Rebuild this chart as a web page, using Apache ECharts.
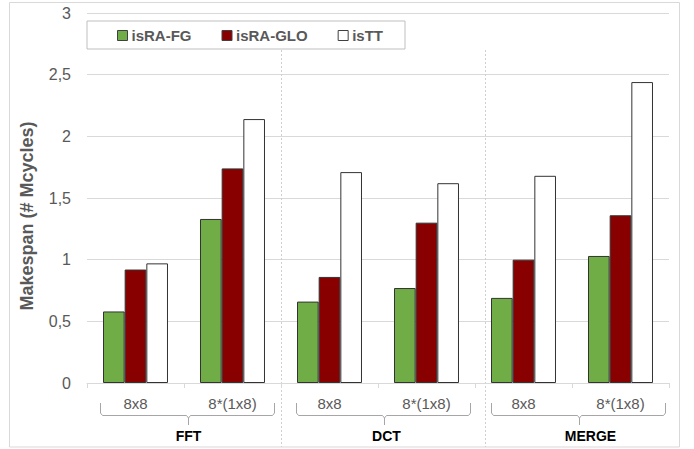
<!DOCTYPE html>
<html><head><meta charset="utf-8">
<script src="https://cdn.jsdelivr.net/npm/echarts@6/dist/echarts.min.js"></script>
<style>html,body{margin:0;padding:0;background:#fff}#c{width:694px;height:449px}</style>
</head><body><div id="c"></div>
<script>
// ---- data ----
const categories = ['8x8', '8*(1x8)', '8x8', '8*(1x8)', '8x8', '8*(1x8)'];
const groups = ['FFT', 'DCT', 'MERGE'];
const seriesNames = ['isRA-FG', 'isRA-GLO', 'isTT'];
const isRA_FG = [0.58, 1.33, 0.66, 0.77, 0.69, 1.03];
const isRA_GLO = [0.92, 1.74, 0.86, 1.30, 1.00, 1.36];
const isTT = [0.97, 2.14, 1.71, 1.62, 1.68, 2.44];
const yMin = 0, yMax = 3, yInterval = 0.5;
const yTitle = 'Makespan (# Mcycles)';

// ---- style ----
const colors = ['#70AD47', '#880000', '#FFFFFF'];
const FONT = '"Liberation Sans", Arial, sans-serif';
const gray = '#595959';
const sepShift = [0, 10];      // dotted separator offsets (Excel quirk)
const labelShift = [0, 2, 11]; // group label offsets

const chart = echarts.init(document.getElementById('c'), null, { renderer: 'svg' });
const seriesData = [isRA_FG, isRA_GLO, isTT];

chart.setOption({
  animation: false,
  backgroundColor: '#fff',
  textStyle: { fontFamily: FONT },
  grid: { left: 87, right: 25, top: 13, bottom: 66 },
  legend: {
    left: 87, top: 21,
    padding: [7, 22, 6, 30],
    itemGap: 30, itemWidth: 10, itemHeight: 10,
    icon: 'rect',
    borderColor: '#bfbfbf', borderWidth: 1,
    itemStyle: { borderColor: '#404040', borderWidth: 1 },
    textStyle: { fontSize: 15, fontWeight: 'bold', color: gray, fontFamily: FONT, padding: [0, 0, 0, -1] },
    data: seriesNames
  },
  xAxis: {
    type: 'category',
    data: categories,
    axisLine: { lineStyle: { color: '#d9d9d9', width: 1 } },
    axisTick: { show: true, length: 5, lineStyle: { color: '#d9d9d9' } },
    axisLabel: { interval: 0, fontSize: 15, color: gray, margin: 13, fontFamily: FONT },
    splitLine: { show: false }
  },
  yAxis: {
    type: 'value',
    min: yMin, max: yMax, interval: yInterval,
    axisLine: { show: false },
    axisTick: { show: false },
    axisLabel: { fontSize: 16, color: gray, margin: 16, fontFamily: FONT,
      formatter: v => String(v).replace('.', ',') },
    splitLine: { lineStyle: { color: '#d9d9d9', width: 1 } }
  },
  series: seriesNames.map((n, i) => ({
    name: n,
    type: 'bar',
    data: seriesData[i],
    barGap: '0%',
    barCategoryGap: '33%',
    itemStyle: { color: colors[i], borderColor: '#333333', borderWidth: 1 }
  }))
});

// ---- decorations computed from the axis ----
const px = i => chart.convertToPixel({ xAxisIndex: 0 }, i);
const catW = px(1) - px(0);
const gfx = [];
gfx.push({ type: 'rect', silent: true, z: -1,
  shape: { x: 9.5, y: 2.5, width: 670, height: 444.5 },
  style: { fill: 'none', stroke: '#d9d9d9', lineWidth: 1 } });
gfx.push({ type: 'text', x: 27, y: 216, rotation: Math.PI / 2,
  style: { text: yTitle, font: 'bold 18px ' + FONT, fill: gray, textAlign: 'center', textVerticalAlign: 'middle' } });
for (let g = 1; g < groups.length; g++) {
  const x = Math.round(px(2 * g) - catW / 2 + sepShift[g - 1]) + 0.5;
  gfx.push({ type: 'line', silent: true,
    shape: { x1: x, y1: 50, x2: x, y2: 447 },
    style: { stroke: '#cfcfcf', lineWidth: 1, lineDash: [2, 2] } });
}
groups.forEach((name, g) => {
  const L = px(2 * g) - catW / 2, R = px(2 * g + 1) + catW / 2;
  const l = Math.round(L + 13 + 1.5 * g) + 0.5, r = Math.round(R - 7 + 1.5 * g) + 0.5;
  const c = Math.round((l + r) / 2) + 0.5;
  gfx.push({ type: 'polyline', silent: true,
    shape: { points: [[l, 403], [l, 413], [l + 2, 415.5], [c - 2, 415.5], [c, 418], [c, 425], [c, 418], [c + 2, 415.5], [r - 2, 415.5], [r, 413], [r, 403]] },
    style: { stroke: '#a6a6a6', lineWidth: 1, fill: 'none' } });
  gfx.push({ type: 'text', x: c + labelShift[g], y: 436,
    style: { text: name, font: 'bold 14px ' + FONT, fill: '#000', textAlign: 'center', textVerticalAlign: 'middle' } });
});
chart.setOption({ graphic: gfx });
</script>
</body></html>
